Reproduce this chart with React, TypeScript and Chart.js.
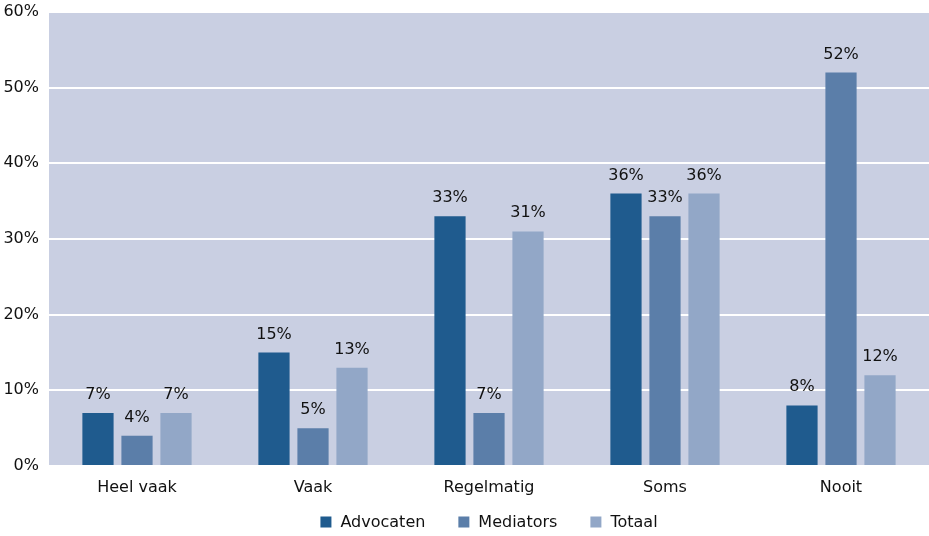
import React, { useEffect, useRef } from "react";
import { Chart, registerables } from "chart.js";

Chart.register(...registerables);

const categories = ["Heel vaak", "Vaak", "Regelmatig", "Soms", "Nooit"];
const advocaten = [7, 15, 33, 36, 8];
const mediators = [4, 5, 7, 33, 52];
const totaal = [7, 13, 31, 36, 12];
const seriesNames = ["Advocaten", "Mediators", "Totaal"];
const seriesColors = ["#1f5b8e", "#5b7ea9", "#92a7c7"];

const FONT = "'DejaVu Sans', Verdana, sans-serif";
const FS = 16;

const bgPlugin = {
  id: "plotBg",
  beforeDraw(chart: any) {
    const { ctx, chartArea } = chart;
    ctx.save();
    ctx.fillStyle = "#c9cfe2";
    ctx.fillRect(chartArea.left, chartArea.top, chartArea.right - chartArea.left, chartArea.bottom - chartArea.top);
    ctx.restore();
  },
};

const labelPlugin = {
  id: "valueLabels",
  afterDatasetsDraw(chart: any) {
    const { ctx } = chart;
    ctx.save();
    ctx.font = `${FS}px ${FONT}`;
    ctx.fillStyle = "#111";
    ctx.textAlign = "center";
    ctx.textBaseline = "alphabetic";
    chart.data.datasets.forEach((ds: any, i: number) => {
      const meta = chart.getDatasetMeta(i);
      meta.data.forEach((bar: any, j: number) => {
        ctx.fillText(ds.data[j] + "%", bar.x, bar.y - 14);
      });
    });
    ctx.restore();
  },
};

const legendPlugin = {
  id: "customLegend",
  afterDraw(chart: any) {
    const { ctx, chartArea } = chart;
    ctx.save();
    ctx.font = `${FS}px ${FONT}`;
    ctx.textBaseline = "middle";
    ctx.textAlign = "left";
    const box = 11;
    const gapBoxText = 9;
    const gapItems = 33;
    const ds = chart.data.datasets;
    const widths = ds.map((d: any) => box + gapBoxText + ctx.measureText(d.label).width);
    const total = widths.reduce((a: number, b: number) => a + b, 0) + gapItems * (ds.length - 1);
    let x = (chartArea.left + chartArea.right) / 2 - total / 2;
    const y = 523;
    ds.forEach((d: any, i: number) => {
      ctx.fillStyle = d.backgroundColor;
      ctx.fillRect(x, y - box / 2 - 1, box, box);
      ctx.fillStyle = "#111";
      ctx.fillText(d.label, x + box + gapBoxText, y);
      x += widths[i] + gapItems;
    });
    ctx.restore();
  },
};

export default function App() {
  const ref = useRef<HTMLCanvasElement>(null);
  useEffect(() => {
    const chart = new Chart(ref.current!, {
      type: "bar",
      data: {
        labels: categories,
        datasets: [advocaten, mediators, totaal].map((d, i) => ({
          label: seriesNames[i],
          data: d,
          backgroundColor: seriesColors[i],
          categoryPercentage: 0.665,
          barPercentage: 0.8,
        })),
      },
      options: {
        animation: false,
        responsive: false,
        maintainAspectRatio: false,
        layout: { padding: { top: 12, right: 0, left: 0, bottom: 34 } },
        plugins: {
          legend: { display: false },
          tooltip: { enabled: false },
        },
        scales: {
          x: {
            grid: { display: false },
            border: { display: false },
            ticks: { font: { family: FONT, size: FS }, color: "#111", padding: 4 },
            afterFit(scale: any) {
              scale.height = 36;
              scale.paddingLeft = 0;
              scale.paddingRight = 0;
            },
          },
          y: {
            min: 0,
            max: 60,
            ticks: {
              stepSize: 10,
              font: { family: FONT, size: FS },
              color: "#111",
              padding: 10,
              callback: (v: any) => v + "%",
            },
            grid: { color: "#ffffff", lineWidth: 2, drawTicks: false },
            border: { display: false },
            afterFit(scale: any) {
              scale.width = 49;
              scale.paddingTop = 0;
              scale.paddingBottom = 0;
            },
          },
        },
      },
      plugins: [bgPlugin, labelPlugin, legendPlugin],
    });
    return () => chart.destroy();
  }, []);
  return (
    <div style={{ position: "fixed", left: 0, top: 0, width: 929, height: 536 }}>
      <canvas ref={ref} width={929} height={536} />
    </div>
  );
}
